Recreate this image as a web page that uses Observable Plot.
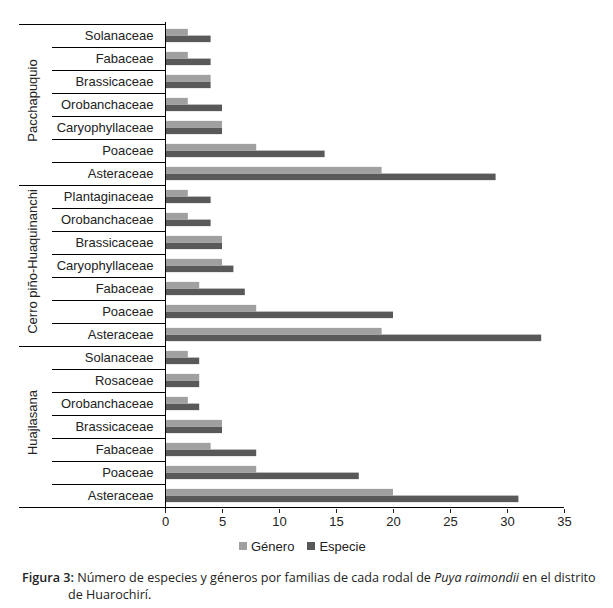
<!DOCTYPE html>
<html>
<head>
<meta charset="utf-8">
<script src="https://cdn.jsdelivr.net/npm/d3@7"></script>
<script src="https://cdn.jsdelivr.net/npm/@observablehq/plot@0.6"></script>
<style>
  body { margin: 0; background: #fff; font-family: "Liberation Sans", Arial, sans-serif; }
  #wrap { width: 613px; }
  .legend { display: flex; align-items: center; margin-left: 239px; height: 18px; margin-top: 7px; font-size: 13px; color: #222; }
  .legend .sw { width: 8px; height: 8px; display: inline-block; margin-right: 4px; }
  .legend .item { display: flex; align-items: center; margin-right: 13px; }
  .caption { font-family: "Open Sans", sans-serif; font-size: 12.6px; color: #222; line-height: 17px; margin-top: 14px; white-space: nowrap; }
  .caption .l1 { padding-left: 22px; }
  .caption .l2 { padding-left: 68px; }
  .caption b { font-weight: 600; }
</style>
</head>
<body>
<div id="wrap">
  <div id="chart"></div>
  <div class="legend">
    <span class="item"><span class="sw" style="background:#a0a0a0"></span>Género</span>
    <span class="item"><span class="sw" style="background:#595959"></span>Especie</span>
  </div>
  <div class="caption">
    <div class="l1"><b>Figura 3:</b> <span>Número de especies y géneros por familias de cada rodal de</span> <i>Puya raimondii</i> <span>en el distrito</span></div>
    <div class="l2">de Huarochirí.</div>
  </div>
</div>
<script>
// ---- data (top to bottom) ----
const groups = ["Pacchapuquio", "Cerro piño-Huaquinanchi", "Huajlasana"];

const pacFamilias = ["Solanaceae", "Fabaceae", "Brassicaceae", "Orobanchaceae", "Caryophyllaceae", "Poaceae", "Asteraceae"];
const pacGenero   = [2, 2, 4, 2, 5, 8, 19];
const pacEspecie  = [4, 4, 4, 5, 5, 14, 29];

const cerFamilias = ["Plantaginaceae", "Orobanchaceae", "Brassicaceae", "Caryophyllaceae", "Fabaceae", "Poaceae", "Asteraceae"];
const cerGenero   = [2, 2, 5, 5, 3, 8, 19];
const cerEspecie  = [4, 4, 5, 6, 7, 20, 33];

const hujFamilias = ["Solanaceae", "Rosaceae", "Orobanchaceae", "Brassicaceae", "Fabaceae", "Poaceae", "Asteraceae"];
const hujGenero   = [2, 3, 2, 5, 4, 8, 20];
const hujEspecie  = [3, 3, 3, 5, 8, 17, 31];

const xTicks = [0, 5, 10, 15, 20, 25, 30, 35];

// ---- build table ----
const sets = [
  [groups[0], pacFamilias, pacGenero, pacEspecie],
  [groups[1], cerFamilias, cerGenero, cerEspecie],
  [groups[2], hujFamilias, hujGenero, hujEspecie]
];
const rows = [];
for (const [g, fams, gen, esp] of sets) {
  fams.forEach((f, i) => rows.push({group: g, family: f, key: g + "|" + f, genero: gen[i], especie: esp[i]}));
}
const keys = rows.map(d => d.key);

const W = 613, H = 530, mTop = 22, mBottom = 21, mLeft = 165, mRight = 49;
const step = (H - mTop - mBottom) / keys.length;
const barH = step * 0.29;
const outer = (step - 2 * barH) / 2;

const chart = Plot.plot({
  width: W, height: H,
  marginTop: mTop, marginBottom: mBottom, marginLeft: mLeft, marginRight: mRight,
  style: {fontFamily: "'Liberation Sans', Arial, sans-serif", fontSize: "13px", color: "#222", background: "#fff"},
  x: {domain: [0, 35], label: null},
  y: {domain: keys, padding: 0, label: null},
  marks: [
    Plot.barX(rows, {x: "genero", y: "key", fill: "#a0a0a0", insetTop: outer, insetBottom: outer + barH}),
    Plot.barX(rows, {x: "especie", y: "key", fill: "#595959", insetTop: outer + barH, insetBottom: outer}),
    Plot.axisY({tickFormat: k => k.split("|")[1], tickSize: 0, tickPadding: 12, fontSize: 13, label: null}),
    Plot.axisX({ticks: xTicks, tickSize: 4, tickPadding: 3, fontSize: 13, tickFormat: d => String(d), label: null}),
    Plot.ruleX([0], {stroke: "#000", strokeWidth: 1})
  ]
});

document.getElementById("chart").appendChild(chart);

// ---- separators and group labels derived from the y scale ----
const ys = chart.scale("y");
const xs = chart.scale("x");
const svg = d3.select(chart);
const g = svg.append("g").attr("stroke", "#000").attr("stroke-width", 1);
const x0 = xs.apply(0);
const bandTop = k => ys.apply(k);
// top line
g.append("line").attr("x1", 19).attr("x2", x0).attr("y1", Math.round(bandTop(keys[0])) + 0.5).attr("y2", Math.round(bandTop(keys[0])) + 0.5);
rows.forEach((d, i) => {
  if (i === 0) return;
  const newGroup = rows[i - 1].group !== d.group;
  const y = Math.round(bandTop(d.key)) + 0.5;
  g.append("line").attr("x1", newGroup ? 19 : 52).attr("x2", x0).attr("y1", y).attr("y2", y);
});
// bottom line extends through the x axis
const yb = Math.round(bandTop(keys[keys.length - 1]) + ys.bandwidth) + 0.5;
g.append("line").attr("x1", 19).attr("x2", xs.apply(35)).attr("y1", yb).attr("y2", yb);

// group labels
for (const grp of groups) {
  const ks = rows.filter(d => d.group === grp).map(d => d.key);
  const yc = (bandTop(ks[0]) + bandTop(ks[ks.length - 1]) + ys.bandwidth) / 2;
  svg.append("text")
    .attr("transform", `translate(37,${yc - 4}) rotate(-90)`)
    .attr("text-anchor", "middle")
    .attr("font-size", 13)
    .attr("fill", "#222")
    .text(grp);
}
</script>
</body>
</html>
